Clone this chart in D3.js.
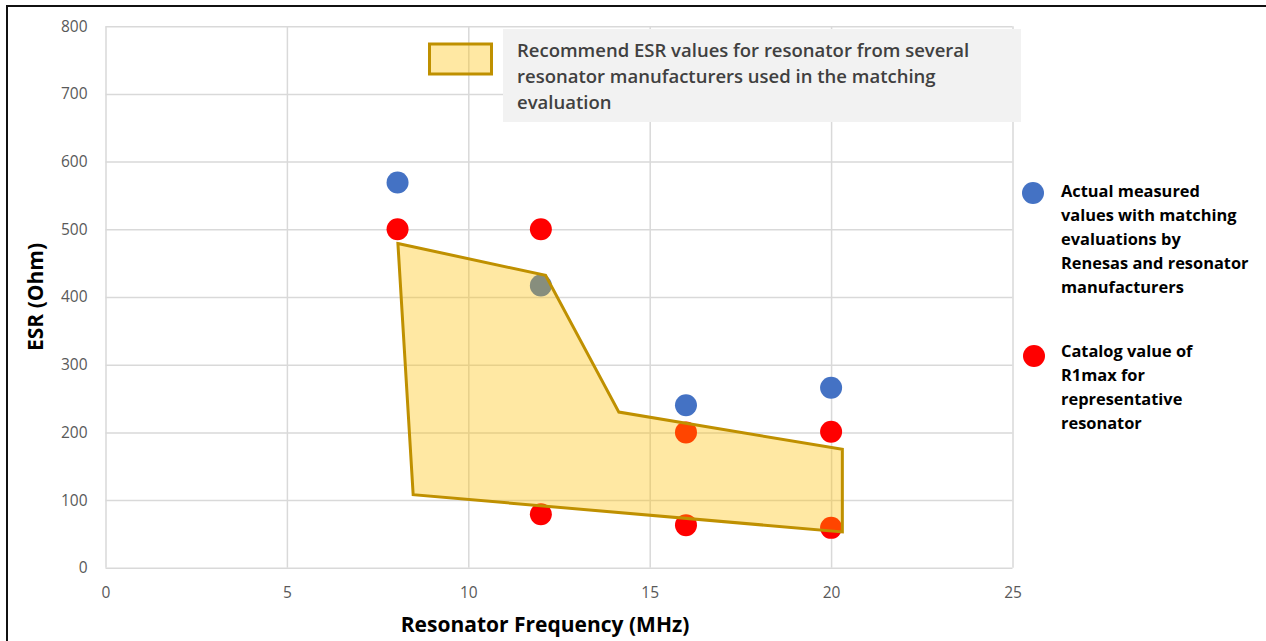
<!DOCTYPE html>
<html>
<head>
<meta charset="utf-8">
<script src="https://cdn.jsdelivr.net/npm/d3@7"></script>
<style>
  html, body { margin: 0; padding: 0; background: #fff; }
  svg { display: block; }
  text { font-family: "Open Sans", "Liberation Sans", sans-serif; }
</style>
</head>
<body>
<svg id="chart" width="1266" height="641"></svg>
<script>
// ---- Data ----
const xTicks = [0, 5, 10, 15, 20, 25];
const yTicks = [0, 100, 200, 300, 400, 500, 600, 700, 800];

const measuredFreq = [8.05, 12, 16, 20];
const measuredESR  = [569, 417, 240, 266];

const catalogFreq = [8.05, 12, 12, 16, 16, 20, 20];
const catalogESR  = [500, 500, 79, 200, 63, 201, 59];

const regionFreq = [8.06, 12.13, 14.15, 20.31, 20.31, 8.48];
const regionESR  = [479, 432, 230, 175, 53, 108];

const xTitle = "Resonator Frequency (MHz)";
const yTitle = "ESR (Ohm)";
const regionLegend = ["Recommend ESR values for resonator from several",
                      "resonator manufacturers used in the matching",
                      "evaluation"];
const measuredLegend = ["Actual measured", "values with matching", "evaluations by",
                        "Renesas and resonator", "manufacturers"];
const catalogLegend = ["Catalog value of", "R1max for", "representative", "resonator"];

// ---- Layout ----
const svg = d3.select("#chart");
const x = d3.scaleLinear().domain([0, 25]).range([105.5, 1012.5]);
const y = d3.scaleLinear().domain([0, 800]).range([567.8, 26.2]);

const blue = "#4472C4", red = "#FF0000", gridC = "#D9D9D9";

// outer frame (top and left)
svg.append("line").attr("x1", 6).attr("x2", 1266).attr("y1", 6).attr("y2", 6)
  .attr("stroke", "#111").attr("stroke-width", 2);
svg.append("line").attr("x1", 7).attr("x2", 7).attr("y1", 5).attr("y2", 641)
  .attr("stroke", "#111").attr("stroke-width", 2);

// gridlines
const gx = svg.append("g").attr("transform", `translate(0,${y(0)})`)
  .call(d3.axisBottom(x).tickValues(xTicks).tickSize(-(y(0) - y(800))).tickFormat(""));
const gy = svg.append("g").attr("transform", `translate(${x(0)},0)`)
  .call(d3.axisLeft(y).tickValues(yTicks).tickSize(-(x(25) - x(0))).tickFormat(""));
[gx, gy].forEach(g => {
  g.select(".domain").remove();
  g.selectAll(".tick line").attr("stroke", gridC).attr("stroke-width", 1.5);
});

// tick labels
const xl = svg.append("g").attr("transform", `translate(0,${y(0)})`)
  .call(d3.axisBottom(x).tickValues(xTicks).tickSize(0).tickPadding(19));
const yl = svg.append("g").attr("transform", `translate(${x(0)},0)`)
  .call(d3.axisLeft(y).tickValues(yTicks).tickSize(0).tickPadding(18));
[xl, yl].forEach(g => {
  g.select(".domain").remove();
  g.selectAll(".tick text").attr("fill", "#595959")
    .style("font-family", "'Open Sans', sans-serif").style("font-size", "15.5px");
});

// top legend box
svg.append("rect").attr("x", 503).attr("y", 29).attr("width", 518).attr("height", 93)
  .attr("fill", "#F2F2F2");
svg.append("rect").attr("x", 429.5).attr("y", 44).attr("width", 62).attr("height", 30)
  .attr("fill", "#FFC000").attr("fill-opacity", 0.36)
  .attr("stroke", "#BF9000").attr("stroke-width", 3);
svg.append("text").attr("x", 517).attr("y", 57)
  .attr("fill", "#404040").style("font-size", "18.5px").style("font-weight", 600)
  .selectAll("tspan").data(regionLegend).join("tspan")
  .attr("x", 517).attr("dy", (d, i) => i === 0 ? 0 : 26).text(d => d);

// points
svg.append("g").selectAll("circle").data(measuredFreq).join("circle")
  .attr("cx", (d) => x(d)).attr("cy", (d, i) => y(measuredESR[i])).attr("r", 11)
  .attr("fill", blue);
svg.append("g").selectAll("circle").data(catalogFreq).join("circle")
  .attr("cx", (d) => x(d)).attr("cy", (d, i) => y(catalogESR[i])).attr("r", 11)
  .attr("fill", red);

// recommended region polygon (semi-transparent, on top)
const poly = regionFreq.map((f, i) => [x(f), y(regionESR[i])]);
svg.append("path").attr("d", d3.line()(poly) + "Z")
  .attr("fill", "#FFC000").attr("fill-opacity", 0.36)
  .attr("stroke", "#BF9000").attr("stroke-width", 3).attr("stroke-linejoin", "miter");

// right legend
svg.append("circle").attr("cx", 1033).attr("cy", 193).attr("r", 11).attr("fill", blue);
svg.append("circle").attr("cx", 1034).attr("cy", 356).attr("r", 11).attr("fill", red);
svg.append("text").attr("y", 197).attr("fill", "#000")
  .style("font-size", "16.4px").style("font-weight", 700)
  .selectAll("tspan").data(measuredLegend).join("tspan")
  .attr("x", 1061).attr("dy", (d, i) => i === 0 ? 0 : 24).text(d => d);
svg.append("text").attr("y", 357).attr("fill", "#000")
  .style("font-size", "16.4px").style("font-weight", 700)
  .selectAll("tspan").data(catalogLegend).join("tspan")
  .attr("x", 1061).attr("dy", (d, i) => i === 0 ? 0 : 24).text(d => d);

// axis titles
svg.append("text").attr("x", 545).attr("y", 632).attr("text-anchor", "middle")
  .style("font-size", "21px").style("font-weight", 700).attr("fill", "#000").text(xTitle);
svg.append("text").attr("transform", "translate(43,297) rotate(-90)").attr("text-anchor", "middle")
  .style("font-size", "21px").style("font-weight", 700).attr("fill", "#000").text(yTitle);
</script>
</body>
</html>
